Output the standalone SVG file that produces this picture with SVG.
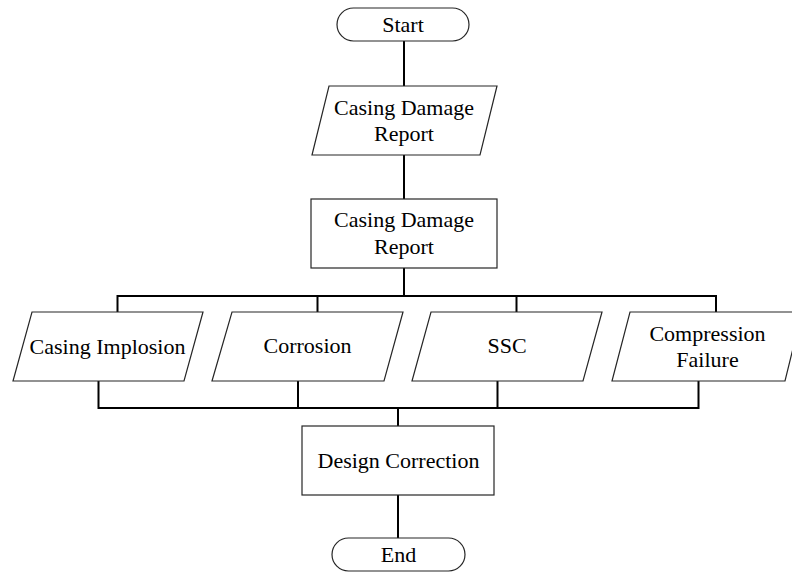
<svg xmlns="http://www.w3.org/2000/svg" width="792" height="573" viewBox="0 0 792 573">
  <style>
    .shape { fill: #ffffff; stroke: #262626; stroke-width: 1.2; }
    .conn { fill: none; stroke: #000000; stroke-width: 2; }
    .label { font-family: "Liberation Serif", "Times New Roman", serif; font-size: 22px; fill: #000000; text-anchor: middle; }
  </style>
  <rect width="792" height="573" fill="#ffffff"/>
  <g id="connectors">
    <line class="conn" x1="404" y1="41" x2="404" y2="86"/>
    <line class="conn" x1="404" y1="155" x2="404" y2="199"/>
    <line class="conn" x1="404" y1="268" x2="404" y2="296"/>
    <polyline class="conn" points="117.5,312 117.5,296 716,296 716,312"/>
    <line class="conn" x1="317.5" y1="296" x2="317.5" y2="312"/>
    <line class="conn" x1="516.5" y1="296" x2="516.5" y2="312"/>
    <polyline class="conn" points="98.5,381 98.5,408 698.5,408 698.5,381"/>
    <line class="conn" x1="298" y1="381" x2="298" y2="408"/>
    <line class="conn" x1="497.5" y1="381" x2="497.5" y2="408"/>
    <line class="conn" x1="398" y1="408" x2="398" y2="426"/>
    <line class="conn" x1="398" y1="495" x2="398" y2="538"/>
  </g>
  <g id="start">
    <rect class="shape" x="337" y="8" width="132" height="33" rx="16.5" ry="16.5"/>
    <text class="label" x="403" y="31.5">Start</text>
  </g>
  <g id="report-input">
    <polygon class="shape" points="329,86 497,86 480,155 312,155"/>
    <text class="label" x="404" y="115">Casing Damage</text>
    <text class="label" x="404" y="141">Report</text>
  </g>
  <g id="report-process">
    <rect class="shape" x="311" y="199" width="186" height="69"/>
    <text class="label" x="404" y="227">Casing Damage</text>
    <text class="label" x="404" y="254">Report</text>
  </g>
  <g id="casing-implosion">
    <polygon class="shape" points="32,312 203,312 184,381 13,381"/>
    <text class="label" x="107.5" y="354">Casing Implosion</text>
  </g>
  <g id="corrosion">
    <polygon class="shape" points="232,312 403,312 384,381 212,381"/>
    <text class="label" x="307.5" y="353">Corrosion</text>
  </g>
  <g id="ssc">
    <polygon class="shape" points="431,312 602,312 583,381 412,381"/>
    <text class="label" x="507" y="353">SSC</text>
  </g>
  <g id="compression-failure">
    <polygon class="shape" points="630,312 802,312 785,381 612,381"/>
    <text class="label" x="707.5" y="341">Compression</text>
    <text class="label" x="707.5" y="367">Failure</text>
  </g>
  <g id="design-correction">
    <rect class="shape" x="302" y="426" width="192" height="69"/>
    <text class="label" x="398.5" y="468">Design Correction</text>
  </g>
  <g id="end">
    <rect class="shape" x="332" y="538" width="133" height="33" rx="16.5" ry="16.5"/>
    <text class="label" x="398.5" y="562">End</text>
  </g>
</svg>
